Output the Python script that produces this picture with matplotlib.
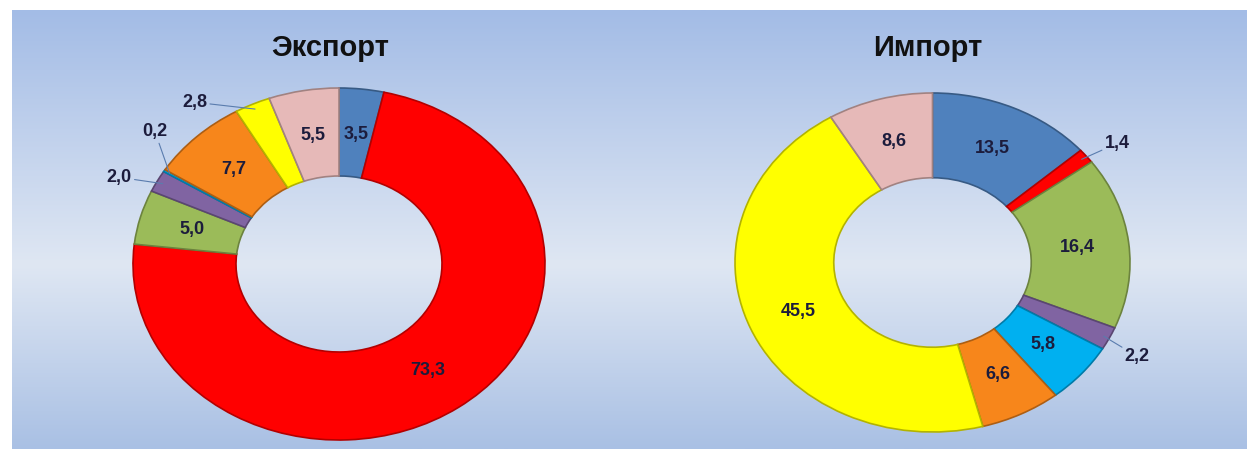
import numpy as np
import matplotlib.pyplot as plt
import matplotlib.colors as mcolors

# shares, clockwise from 12 o'clock
slice_colors = ["#4f81bd", "#ff0000", "#9bbb59", "#8064a2", "#00b0f0", "#f7861b", "#ffff00", "#e6b9b8"]
export_values = [3.5, 73.3, 5.0, 2.0, 0.2, 7.7, 2.8, 5.5]
import_values = [13.5, 1.4, 16.4, 2.2, 5.8, 6.6, 45.5, 8.6]
titles = ["Экспорт", "Импорт"]

# small slices get an outside label: index -> angle nudge (deg)
export_outside = {3: 2, 4: -10, 6: 10}
import_outside = {1: 0, 3: -3}

text_color = "#1c1c3c"
plt.rcParams["font.family"] = ["Liberation Sans", "DejaVu Sans"]

W, H = 1247, 449
fig = plt.figure(figsize=(W / 100, H / 100), dpi=100)
fig.patch.set_facecolor("white")

# blue gradient panel, lighter in the middle
bg = fig.add_axes([12 / W, 0, 1 - 12 / W, (H - 10) / H])
cmap = mcolors.LinearSegmentedColormap.from_list(
    "bg", [(0, "#a3bce6"), (0.58, "#dfe7f3"), (1, "#a9c0e4")])
grad = np.linspace(0, 1, 256).reshape(-1, 1)
bg.imshow(grad, cmap=cmap, aspect="auto", extent=[0, 1, 0, 1], origin="upper")
bg.set_axis_off()


def fmt(v):
    return f"{v:.1f}".replace(".", ",")


def darker(c, f=0.7):
    r, g, b = mcolors.to_rgb(c)
    return (r * f, g * f, b * f)


def donut(rect, values, outside, title, title_x):
    ax = fig.add_axes(rect)
    ax.set_facecolor("none")
    wedges, _ = ax.pie(values, colors=slice_colors, startangle=90, counterclock=False,
                       radius=1, wedgeprops=dict(width=0.5, linewidth=1.2))
    for w, c in zip(wedges, slice_colors):
        w.set_edgecolor(darker(c))
    ax.set_aspect("auto")
    ax.set_xlim(-1, 1)
    ax.set_ylim(-1, 1)
    ax.set_axis_off()

    total = sum(values)
    start = 90.0
    for i, v in enumerate(values):
        sweep = 360.0 * v / total
        mid = np.deg2rad(start - sweep / 2)
        start -= sweep
        if i in outside:
            lab = mid + np.deg2rad(outside[i])
            x0, y0 = 0.97 * np.cos(mid), 0.97 * np.sin(mid)
            x1, y1 = 1.12 * np.cos(lab), 1.12 * np.sin(lab)
            ax.annotate(fmt(v), xy=(x0, y0), xytext=(x1, y1),
                        ha="right" if np.cos(lab) < 0 else "left", va="center",
                        fontsize=13, fontweight="bold", color=text_color,
                        arrowprops=dict(arrowstyle="-", color="#5a7cae", lw=0.8,
                                        shrinkA=0, shrinkB=0),
                        annotation_clip=False)
        else:
            r = 0.74
            ax.text(r * np.cos(mid), r * np.sin(mid), fmt(v), ha="center", va="center",
                    fontsize=13, fontweight="bold", color=text_color)
    fig.text(title_x, 1 - 48 / H, title, ha="center", va="center",
             fontsize=21, fontweight="bold", color="#111111")


donut([133 / W, 9 / H, 412 / W, 352 / H], export_values, export_outside, titles[0], 330 / W)
donut([735 / W, 17 / H, 395 / W, 339 / H], import_values, import_outside, titles[1], 928 / W)

fig.savefig("out.png", dpi=100)
